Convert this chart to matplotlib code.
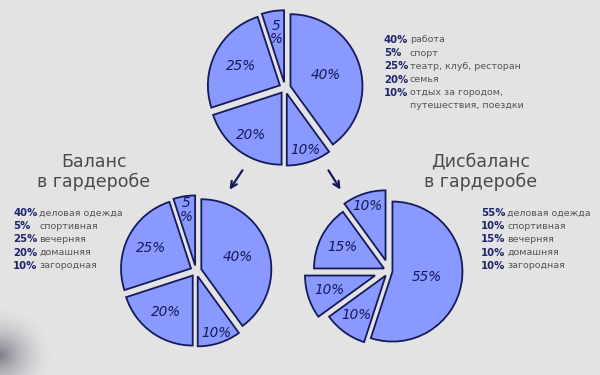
import numpy as np
import matplotlib.pyplot as plt

# ------------------------------------------------------------
# dati
# ------------------------------------------------------------
top_vals = [40, 5, 25, 20, 10]
top_names = ["работа", "спорт", "театр, клуб, ресторан", "семья",
             "отдых за городом,\nпутешествия, поездки"]

bal_vals = [40, 5, 25, 20, 10]
dis_vals = [55, 10, 15, 10, 10]
wear_names = ["деловая одежда", "спортивная", "вечерняя", "домашняя", "загородная"]

bal_title = "Баланс\nв гардеробе"
dis_title = "Дисбаланс\nв гардеробе"

# ------------------------------------------------------------
# stile
# ------------------------------------------------------------
W, H = 600, 375
BG = "#e3e3e3"
FILL = "#8a99ff"
EDGE = "#141a5a"
NAVY = "#1f2470"
GREY = "#555555"


def Y(y):
    # coordinate in pixel dall'alto -> coordinate matplotlib
    return H - y


fig = plt.figure(figsize=(6, 3.75), dpi=100, facecolor=BG)
ax = fig.add_axes([0, 0, 1, 1])
ax.set_facecolor(BG)


def draw_pie(cx, cy, r, vals, start, explode, lab_dist):
    # explode in matplotlib e' in unita' dati, non frazione del raggio
    expl = [e * r for e in explode]
    wedges, _ = ax.pie(vals, center=(cx, Y(cy)), radius=r, startangle=start,
                       explode=expl, counterclock=True, frame=True,
                       wedgeprops=dict(facecolor=FILL, edgecolor=EDGE, linewidth=1.3))
    for w, v, d in zip(wedges, vals, lab_dist):
        ang = np.deg2rad((w.theta1 + w.theta2) / 2)
        x = w.center[0] + d * r * np.cos(ang)
        y = w.center[1] + d * r * np.sin(ang)
        txt = f"{v}\n%" if v == 5 else f"{v}%"
        ax.text(x, y, txt, ha="center", va="center", fontsize=9.8,
                style="italic", color=EDGE, linespacing=0.95)


draw_pie(285, 88, 72, top_vals, -54, [0.08] * 5, [0.52, 0.7, 0.6, 0.72, 0.82])
draw_pie(196, 271, 70, bal_vals, -54, [0.08] * 5, [0.55, 0.8, 0.64, 0.64, 0.85])
draw_pie(389, 271, 70, dis_vals, -108, [0.05, 0.16, 0.08, 0.21, 0.08],
         [0.5, 0.82, 0.67, 0.69, 0.7])


def legend(x_pct, x_txt, y0, vals, names, step=13.2):
    y = y0
    for v, n in zip(vals, names):
        ax.text(x_pct, Y(y), f"{v}%", fontsize=7.3, fontweight="bold",
                color=NAVY, va="center", ha="left")
        for k, line in enumerate(n.split("\n")):
            ax.text(x_txt, Y(y + k * step), line, fontsize=6.8, color=GREY,
                    va="center", ha="left")
        y += step * (1 + n.count("\n"))


legend(384, 410, 40, top_vals, top_names)
legend(13, 39, 213, bal_vals, wear_names)
legend(481, 507, 213, dis_vals, wear_names)

# titoli
ax.text(94, Y(172), bal_title, ha="center", va="center", fontsize=12.5,
        color="#4a4a4a", linespacing=1.15)
ax.text(481, Y(172), dis_title, ha="center", va="center", fontsize=12.5,
        color="#4a4a4a", linespacing=1.15)

# frecce
arrow = dict(arrowstyle="->", color=EDGE, lw=1.6, mutation_scale=11)
ax.annotate("", xy=(228, Y(192)), xytext=(244, Y(168)), arrowprops=arrow)
ax.annotate("", xy=(342, Y(192)), xytext=(327, Y(168)), arrowprops=arrow)

# macchia sfumata in basso a sinistra
gx, gy = np.meshgrid(np.linspace(-1, 1, 120), np.linspace(-1, 1, 120))
rr = np.sqrt(gx ** 2 + gy ** 2)
img = np.zeros((120, 120, 4))
img[..., :3] = np.array([0.36, 0.36, 0.42])
img[..., 3] = np.clip(1 - rr, 0, 1) ** 1.8 * 0.75
ax.imshow(img, extent=(-55, 55, Y(405), Y(305)), zorder=0, interpolation="bilinear")

ax.set_xlim(0, W)
ax.set_ylim(0, H)
ax.set_aspect("auto")
ax.axis("off")

fig.savefig("out.png", dpi=100, facecolor=BG)
